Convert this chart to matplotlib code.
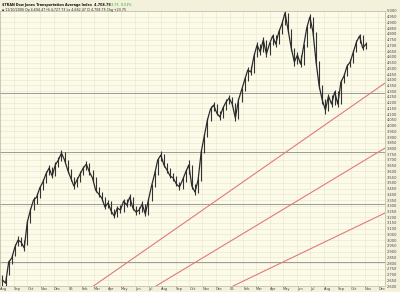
import numpy as np
import pandas as pd
import matplotlib
matplotlib.use("Agg")
import matplotlib.pyplot as plt

# Weekly bars of $TRAN (Aug 2004 - Nov 2006)
closes = [2652, 2625, 2809, 2844, 2940, 3001, 2983, 2931, 3158, 3263,
          3350, 3376, 3455, 3507, 3577, 3629, 3560, 3656, 3699, 3760,
          3699, 3612, 3542, 3472, 3525, 3577, 3629, 3664, 3594, 3542,
          3437, 3402, 3367, 3289, 3324, 3254, 3210, 3280, 3263, 3341,
          3306, 3376, 3280, 3245, 3263, 3315, 3228, 3350, 3472, 3577,
          3699, 3743, 3656, 3612, 3560, 3542, 3490, 3464, 3525, 3594,
          3656, 3472, 3420, 3525, 3769, 3909, 4048, 4144, 4179, 4110,
          4075, 4153, 4206, 4240, 4188, 4066, 4223, 4310, 4398, 4485,
          4467, 4607, 4703, 4642, 4747, 4625, 4712, 4782, 4712, 4817,
          4887, 4983, 4834, 4677, 4555, 4616, 4537, 4694, 4852, 4948,
          4817, 4555, 4345, 4223, 4136, 4258, 4188, 4293, 4188, 4380,
          4433, 4520, 4555, 4642, 4729, 4782, 4677, 4709]
highs = [2700, 2690, 2830, 2880, 2965, 3040, 3030, 3000, 3175, 3280,
         3380, 3410, 3470, 3530, 3600, 3660, 3640, 3680, 3730, 3790,
         3770, 3700, 3620, 3550, 3550, 3600, 3650, 3690, 3670, 3610,
         3550, 3460, 3420, 3380, 3350, 3340, 3270, 3300, 3310, 3360,
         3360, 3400, 3380, 3300, 3290, 3340, 3320, 3370, 3490, 3600,
         3720, 3780, 3750, 3670, 3630, 3590, 3560, 3510, 3550, 3620,
         3700, 3660, 3490, 3540, 3790, 3930, 4070, 4170, 4210, 4190,
         4130, 4170, 4230, 4270, 4250, 4200, 4240, 4330, 4420, 4510,
         4520, 4630, 4730, 4710, 4770, 4750, 4730, 4800, 4790, 4840,
         4910, 5000, 4980, 4840, 4680, 4640, 4620, 4710, 4870, 4975,
         4950, 4820, 4560, 4350, 4230, 4280, 4270, 4310, 4300, 4400,
         4460, 4540, 4580, 4660, 4750, 4800, 4790, 4730]
lows = [2600, 2590, 2700, 2790, 2860, 2950, 2950, 2905, 2960, 3150,
        3260, 3320, 3370, 3440, 3500, 3570, 3540, 3560, 3640, 3690,
        3680, 3590, 3520, 3450, 3460, 3510, 3570, 3610, 3570, 3520,
        3420, 3380, 3340, 3270, 3280, 3230, 3190, 3200, 3240, 3250,
        3290, 3300, 3260, 3220, 3230, 3250, 3210, 3220, 3340, 3460,
        3570, 3690, 3640, 3590, 3540, 3520, 3470, 3440, 3450, 3510,
        3580, 3450, 3390, 3410, 3520, 3760, 3900, 4040, 4130, 4090,
        4050, 4070, 4140, 4190, 4170, 4040, 4060, 4210, 4300, 4390,
        4440, 4460, 4600, 4620, 4640, 4600, 4620, 4700, 4690, 4710,
        4800, 4880, 4810, 4650, 4520, 4540, 4510, 4530, 4690, 4850,
        4790, 4530, 4320, 4190, 4100, 4130, 4160, 4180, 4160, 4190,
        4370, 4430, 4510, 4550, 4640, 4720, 4660, 4670]
first_week = "2004-08-06"
chart_start = "2004-08-02"
chart_end = "2006-12-18"

# user-drawn horizontal levels and trendlines
h_levels = [4285, 3770, 3315, 2810]
trend_start_dates = ["2005-02-15", "2005-06-27", "2005-12-12"]
trend_start_vals = [2564, 2547, 2547]
trend_end_vals = [4371, 3804, 3237]

y_ticks = np.arange(2600, 5001, 50)

title_1 = "$TRAN Dow Jones Transportation Average Index  4,708.75"
title_chg = "23.75  0.51%"
title_2 = "\u25aa 11/10/2006 Op 4,694.47 Hi 4,727.73 Lo 4,682.47 Cl 4,708.75 Chg +23.75"


def day_index(d):
    return np.busday_count(np.datetime64(chart_start),
                           np.asarray(d, dtype="datetime64[D]"))


week_dates = pd.date_range(first_week, periods=len(closes), freq="W-FRI")
x = day_index(week_dates.values.astype("datetime64[D]"))
x_end = int(day_index(np.datetime64(chart_end)))

fig = plt.figure(figsize=(4.0, 2.92), dpi=100, facecolor="#f3f0dc")
ax = fig.add_axes([0, 6 / 292, 385 / 400, 275 / 292])
ax.set_facecolor("#fcfbea")

ax.set_xlim(0, x_end)
ax.set_ylim(2600, 5000)

# month ticks
months = pd.date_range("2004-08-01", "2006-12-01", freq="MS")
m_pos = [int(day_index(np.busday_offset(np.datetime64(m.date()), 0,
                                        roll="forward"))) for m in months]
m_lab = [m.strftime("%y") if m.month == 1 else m.strftime("%b") for m in months]
ax.set_xticks(m_pos)
ax.set_xticklabels(m_lab)
ax.set_yticks(y_ticks)
ax.set_yticklabels([f"{v:,}" for v in y_ticks])
ax.yaxis.tick_right()
ax.tick_params(axis="both", length=0, labelsize=2.6, colors="#444444", pad=1)
ax.tick_params(axis="x", pad=0.5)
for lab in ax.get_xticklabels():
    lab.set_horizontalalignment("left")
ax.grid(True, color="#e9e5c9", linewidth=0.4)
ax.set_axisbelow(True)
for s in ax.spines.values():
    s.set_color("#bdb9a0")
    s.set_linewidth(0.5)

for lv in h_levels:
    ax.axhline(lv, color="#9a9a9a", linewidth=0.7)

for d0, v0, v1 in zip(trend_start_dates, trend_start_vals, trend_end_vals):
    ax.plot([day_index(np.datetime64(d0)), x_end], [v0, v1],
            color="#e07a7a", linewidth=0.8, clip_on=True)

ax.vlines(x, lows, highs, color="#333333", linewidth=0.8)
ax.plot(x, closes, color="#2a2a2a", linewidth=0.9)

fig.text(0.005, 0.990, title_1, fontsize=2.4, color="#111111",
         va="top", fontweight="bold")
fig.text(0.272, 0.990, title_chg, fontsize=2.4, color="#22aa22", va="top")
fig.text(0.005, 0.972, title_2, fontsize=2.3, color="#222222", va="top")

fig.savefig("out.png", dpi=100, facecolor=fig.get_facecolor())
